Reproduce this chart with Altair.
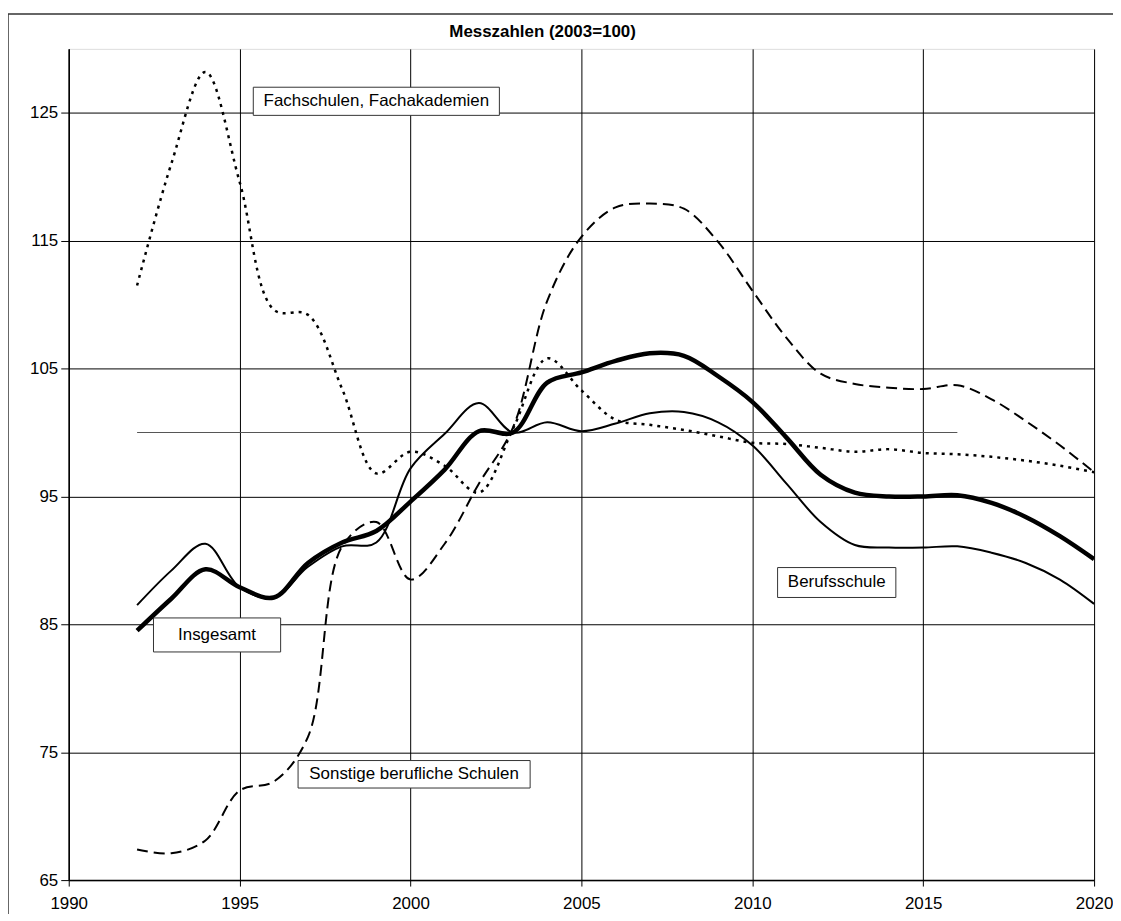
import altair as alt
import pandas as pd

# ---- data ----
years = list(range(1992, 2021))

insgesamt = [84.5, 87.0, 89.3, 87.9, 87.1, 89.8, 91.4, 92.3, 94.6, 97.1,
             100.1, 100.0, 103.9, 104.7, 105.6, 106.2, 106.0, 104.4, 102.4, 99.6,
             96.7, 95.3, 95.0, 95.0, 95.1, 94.5, 93.4, 91.9, 90.1]

berufsschule = [86.5, 89.2, 91.3, 87.9, 87.1, 89.5, 91.1, 91.4, 97.2, 99.9,
                102.3, 100.0, 100.8, 100.1, 100.7, 101.5, 101.6, 100.8, 99.0, 96.0,
                93.0, 91.2, 91.0, 91.0, 91.1, 90.6, 89.8, 88.5, 86.6]

fachschulen = [111.5, 121.0, 128.2, 119.6, 109.6, 109.2, 103.4, 96.8, 98.5, 97.4,
               95.3, 100.3, 105.8, 103.3, 101.0, 100.6, 100.2, 99.7, 99.2, 99.1,
               98.8, 98.5, 98.7, 98.4, 98.3, 98.1, 97.8, 97.4, 96.9]

sonstige = [67.4, 67.1, 68.1, 72.0, 72.7, 76.2, 91.1, 93.0, 88.5, 91.3,
            96.0, 100.4, 110.3, 115.3, 117.6, 117.9, 117.5, 114.9, 111.1, 107.4,
            104.6, 103.8, 103.5, 103.4, 103.7, 102.6, 100.9, 99.0, 96.9]

series_names = ["Insgesamt", "Berufsschule", "Fachschulen, Fachakademien",
                "Sonstige berufliche Schulen"]

x_ticks = [1990, 1995, 2000, 2005, 2010, 2015, 2020]
y_ticks = [65, 75, 85, 95, 105, 115, 125]

ref_start, ref_end, ref_value = 1992, 2016, 100

# annotation boxes (data coordinates)
ann_labels = ["Fachschulen, Fachakademien", "Insgesamt", "Berufsschule",
              "Sonstige berufliche Schulen"]
ann_x1 = [1995.4, 1992.48, 2010.74, 1996.71]
ann_x2 = [2002.6, 1996.2, 2014.2, 2003.5]
ann_y1 = [124.8, 82.84, 87.1, 72.2]
ann_y2 = [127.0, 85.5, 89.44, 74.35]

title_text = "Messzahlen (2003=100)"

# ---- tables ----
rows = []
for name, vals in zip(series_names, [insgesamt, berufsschule, fachschulen, sonstige]):
    for yr, v in zip(years, vals):
        rows.append({"Jahr": yr, "Wert": v, "Reihe": name})
df = pd.DataFrame(rows)

ann = pd.DataFrame({"label": ann_labels, "x1": ann_x1, "x2": ann_x2,
                    "y1": ann_y1, "y2": ann_y2})
ann["xm"] = (ann["x1"] + ann["x2"]) / 2
ann["ym"] = (ann["y1"] + ann["y2"]) / 2

ref = pd.DataFrame({"x1": [ref_start], "x2": [ref_end], "y": [ref_value]})

FONT = "Liberation Sans"

x_scale = alt.Scale(domain=[1990, 2020], nice=False, zero=False)
y_scale = alt.Scale(domain=[65, 130], nice=False, zero=False)

x_axis = alt.Axis(values=x_ticks, format="d", title=None, grid=True,
                  gridColor="black", gridWidth=1, domainColor="black",
                  domainWidth=1.5, tickColor="black", tickSize=6,
                  labelPadding=10, labelFont=FONT, labelFontSize=17,
                  labelColor="black", labelFlush=False)
y_axis = alt.Axis(values=y_ticks, title=None, grid=True, gridColor="black",
                  gridWidth=1, domainColor="black", domainWidth=1.5,
                  tickColor="black", tickSize=8, labelPadding=3,
                  labelFont=FONT, labelFontSize=17, labelColor="black")

X = alt.X("Jahr:Q", scale=x_scale, axis=x_axis)
Y = alt.Y("Wert:Q", scale=y_scale, axis=y_axis)

one = pd.DataFrame({"a": [0]})

frame_top = alt.Chart(one).mark_rule(color="#333", strokeWidth=1.5).encode(
    x=alt.value(-61), x2=alt.value(1200), y=alt.value(-35))
frame_left = alt.Chart(one).mark_rule(color="#333", strokeWidth=1.5).encode(
    x=alt.value(-61), y=alt.value(-35), y2=alt.value(1000))

title = alt.Chart(one).mark_text(text=title_text, font=FONT, fontSize=17,
                                 fontWeight="bold", color="black",
                                 baseline="middle", align="center").encode(
    x=alt.value(476), y=alt.value(-17))

grid_base = alt.Chart(df).mark_line(opacity=0).encode(x=X, y=Y)

ref_line = alt.Chart(ref).mark_rule(color="#555", strokeWidth=1).encode(
    x=alt.X("x1:Q", scale=x_scale), x2="x2:Q", y=alt.Y("y:Q", scale=y_scale))


def series(name, width, dash=None):
    kw = dict(color="black", strokeWidth=width, interpolate="catmull-rom",
              clip=True)
    if dash is not None:
        kw["strokeDash"] = dash
    return alt.Chart(df).transform_filter(alt.datum.Reihe == name).mark_line(**kw).encode(x=X, y=Y)


l_sonst = series("Sonstige berufliche Schulen", 2, [11, 6])
l_fach = series("Fachschulen, Fachakademien", 2.5, [3, 5])
l_beruf = series("Berufsschule", 2)
l_ges = series("Insgesamt", 4.5)

boxes = alt.Chart(ann).mark_rect(fill="white", stroke="#333", strokeWidth=1).encode(
    x=alt.X("x1:Q", scale=x_scale), x2="x2:Q",
    y=alt.Y("y1:Q", scale=y_scale), y2="y2:Q")
texts = alt.Chart(ann).mark_text(font=FONT, fontSize=17, color="black",
                                 align="center", baseline="middle").encode(
    x=alt.X("xm:Q", scale=x_scale), y=alt.Y("ym:Q", scale=y_scale),
    text="label:N")

chart = alt.layer(frame_top, frame_left, grid_base, ref_line, l_sonst, l_fach,
                  l_beruf, l_ges, boxes, texts, title).properties(
    width=1030, height=835,
    autosize=alt.AutoSizeParams(type="none"),
    padding={"left": 61, "top": 39, "right": 19, "bottom": 32},
).configure_view(stroke="#444", strokeWidth=1.5).configure(background="white")

chart.save("out.html", embed_options={"renderer": "svg", "actions": False})
